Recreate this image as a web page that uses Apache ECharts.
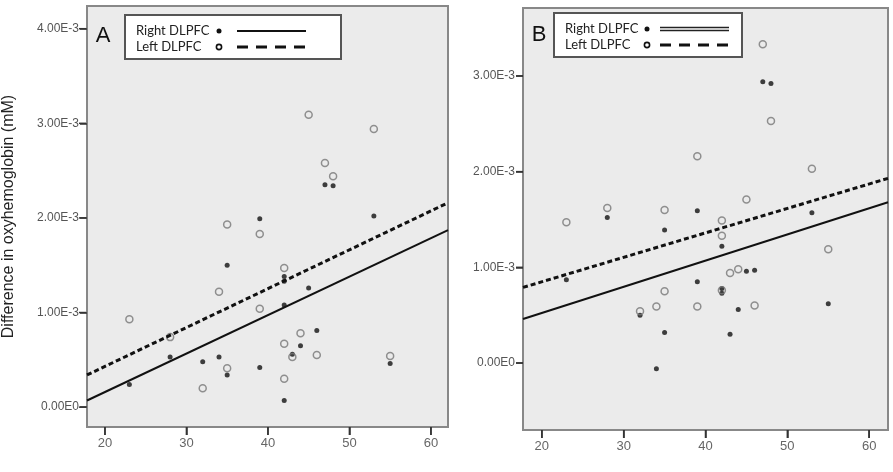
<!DOCTYPE html>
<html>
<head>
<meta charset="utf-8">
<script src="https://cdn.jsdelivr.net/npm/echarts@6/dist/echarts.min.js"></script>
<style>
  html, body { margin: 0; padding: 0; background: #ffffff; }
  #echarts { width: 893px; height: 472px; }
</style>
</head>
<body>
<div id="echarts"></div>
<script>
// age ticks shared by both panels
const xTicks = [20, 30, 40, 50, 60];

// panel A: [age, difference in oxyhemoglobin (mM)]
const rightA = [
  [47, 2.35e-3], [48, 2.34e-3], [39, 1.99e-3], [53, 2.02e-3], [35, 1.50e-3],
  [42, 1.38e-3], [42, 1.33e-3], [45, 1.26e-3], [42, 1.08e-3], [46, 0.81e-3],
  [44, 0.65e-3], [28, 0.53e-3], [34, 0.53e-3], [32, 0.48e-3], [43, 0.56e-3],
  [35, 0.34e-3], [39, 0.42e-3], [55, 0.46e-3], [23, 0.24e-3], [42, 0.07e-3]
];
const leftA = [
  [45, 3.09e-3], [53, 2.94e-3], [47, 2.58e-3], [48, 2.44e-3], [35, 1.93e-3],
  [39, 1.83e-3], [42, 1.47e-3], [34, 1.22e-3], [39, 1.04e-3], [23, 0.93e-3],
  [44, 0.78e-3], [42, 0.67e-3], [28, 0.74e-3], [43, 0.53e-3], [46, 0.55e-3],
  [35, 0.41e-3], [55, 0.54e-3], [42, 0.30e-3], [32, 0.20e-3]
];
// fit lines, read at the two ends of the x range
const fitRightA = [[17.8, 0.07e-3], [62.1, 1.87e-3]];
const fitLeftA = [[17.8, 0.34e-3], [62.1, 2.16e-3]];
const yTicksA = [0, 1e-3, 2e-3, 3e-3, 4e-3];
const yLabelsA = ['0.00E0', '1.00E-3', '2.00E-3', '3.00E-3', '4.00E-3'];

// panel B
const rightB = [
  [47, 2.94e-3], [48, 2.92e-3], [28, 1.52e-3], [39, 1.59e-3], [53, 1.57e-3],
  [35, 1.39e-3], [42, 1.22e-3], [23, 0.87e-3], [45, 0.96e-3], [46, 0.97e-3],
  [39, 0.85e-3], [42, 0.78e-3], [42, 0.73e-3], [44, 0.56e-3], [32, 0.50e-3],
  [55, 0.62e-3], [35, 0.32e-3], [43, 0.30e-3], [34, -0.06e-3]
];
const leftB = [
  [47, 3.33e-3], [48, 2.53e-3], [39, 2.16e-3], [53, 2.03e-3], [45, 1.71e-3],
  [28, 1.62e-3], [23, 1.47e-3], [35, 1.60e-3], [42, 1.49e-3], [42, 1.33e-3],
  [55, 1.19e-3], [43, 0.94e-3], [44, 0.98e-3], [42, 0.76e-3], [35, 0.75e-3],
  [34, 0.59e-3], [39, 0.59e-3], [46, 0.60e-3], [32, 0.54e-3]
];
const fitRightB = [[17.7, 0.46e-3], [62.3, 1.68e-3]];
const fitLeftB = [[17.7, 0.79e-3], [62.3, 1.93e-3]];
const yTicksB = [0, 1e-3, 2e-3, 3e-3];
const yLabelsB = ['0.00E0', '1.00E-3', '2.00E-3', '3.00E-3'];

const labelFor = (ticks, labels) => (v) => {
  const i = ticks.findIndex((t) => Math.abs(t - v) < 1e-9);
  return i >= 0 ? labels[i] : '';
};

const makeX = (idx, min, max) => ({
  type: 'value',
  gridIndex: idx,
  min: min,
  max: max,
  axisLine: { show: true, onZero: false, lineStyle: { color: '#888', width: 2 } },
  splitLine: { show: false },
  axisTick: { show: true, length: 8, customValues: xTicks, lineStyle: { color: '#333', width: 1.5 } },
  axisLabel: {
    customValues: xTicks,
    margin: 10,
    color: '#666',
    fontSize: 13,
    fontFamily: 'Liberation Sans',
  },
});

const makeY = (idx, min, max, ticks, labels) => ({
  type: 'value',
  gridIndex: idx,
  min: min,
  max: max,
  axisLine: { show: true, onZero: false, lineStyle: { color: '#888', width: 2 } },
  splitLine: { show: false },
  axisTick: { show: true, length: 7, customValues: ticks, lineStyle: { color: '#333', width: 1.5 } },
  axisLabel: {
    customValues: ticks,
    margin: 8,
    color: '#555',
    fontSize: 12,
    fontFamily: 'Liberation Sans',
    formatter: labelFor(ticks, labels),
  },
});

const filled = (data, idx) => ({
  type: 'scatter',
  xAxisIndex: idx,
  yAxisIndex: idx,
  data: data,
  symbol: 'circle',
  symbolSize: 5,
  itemStyle: { color: '#111' },
  z: 3,
});

const hollow = (data, idx) => ({
  type: 'scatter',
  xAxisIndex: idx,
  yAxisIndex: idx,
  data: data,
  symbol: 'circle',
  symbolSize: 7,
  itemStyle: { color: 'rgba(0,0,0,0)', borderColor: '#777', borderWidth: 1.5 },
  z: 3,
});

const fit = (data, idx, dashed) => ({
  type: 'line',
  xAxisIndex: idx,
  yAxisIndex: idx,
  data: data,
  showSymbol: false,
  silent: true,
  lineStyle: dashed
    ? { color: '#111', width: 3, type: [5, 3] }
    : { color: '#111', width: 2 },
  z: 4,
});

// legend drawn as a small boxed key, like the original figure
const legendBox = (x, y, w, h, dotX, lx1, lx2, doubleLine) => {
  const t = { fontFamily: 'Lato', fontSize: 13, fill: '#222', verticalAlign: 'middle' };
  const items = [
    { type: 'rect', shape: { x: x, y: y, width: w, height: h }, style: { fill: '#fff', stroke: '#555', lineWidth: 2 } },
    { type: 'text', x: x + 11, y: y + 16, style: Object.assign({ text: 'Right DLPFC' }, t) },
    { type: 'text', x: x + 11, y: y + 32, style: Object.assign({ text: 'Left DLPFC' }, t) },
    { type: 'circle', shape: { cx: dotX, cy: y + 16, r: 2.5 }, style: { fill: '#111' } },
    { type: 'circle', shape: { cx: dotX, cy: y + 32, r: 2.6 }, style: { fill: '#fff', stroke: '#111', lineWidth: 1.6 } },
    { type: 'line', shape: { x1: lx1, y1: y + 32, x2: lx2, y2: y + 32 }, style: { stroke: '#111', lineWidth: 3, lineDash: [11, 8] } },
  ];
  if (doubleLine) {
    items.push({ type: 'line', shape: { x1: lx1, y1: y + 14.5, x2: lx2, y2: y + 14.5 }, style: { stroke: '#222', lineWidth: 1.3 } });
    items.push({ type: 'line', shape: { x1: lx1, y1: y + 17.5, x2: lx2, y2: y + 17.5 }, style: { stroke: '#222', lineWidth: 1.3 } });
  } else {
    items.push({ type: 'line', shape: { x1: lx1, y1: y + 16, x2: lx2, y2: y + 16 }, style: { stroke: '#111', lineWidth: 2 } });
  }
  return items;
};

const grids = [
  { left: 86, top: 6, width: 362, height: 421, show: true, backgroundColor: '#ebebeb', borderColor: '#888', borderWidth: 2 },
  { left: 523, top: 8, width: 365, height: 422, show: true, backgroundColor: '#ebebeb', borderColor: '#888', borderWidth: 2 },
];
const labelsGraphic = [
  { type: 'text', x: 103, y: 36, style: { text: 'A', fontFamily: 'Liberation Sans', fontSize: 22, fill: '#111', align: 'center', verticalAlign: 'middle' } },
  { type: 'text', x: 539, y: 35, style: { text: 'B', fontFamily: 'Liberation Sans', fontSize: 22, fill: '#111', align: 'center', verticalAlign: 'middle' } },
  ...legendBox(125, 15, 216, 44, 219, 237, 306, false),
  ...legendBox(554, 13, 188, 44, 647, 660, 729, true),
];

const myChart = echarts.init(document.getElementById('echarts'), null, { renderer: 'canvas' });
myChart.setOption({
  animation: false,
  grid: grids,
  xAxis: [makeX(0, 17.8, 62.1), makeX(1, 17.7, 62.3)],
  yAxis: [
    Object.assign(makeY(0, -0.21e-3, 4.24e-3, yTicksA, yLabelsA), {
      name: 'Difference in oxyhemoglobin (mM)',
      nameLocation: 'middle',
      nameGap: 70,
      nameTextStyle: { fontFamily: 'Liberation Sans', fontSize: 16, color: '#222' },
    }),
    makeY(1, -0.70e-3, 3.71e-3, yTicksB, yLabelsB),
  ],
  series: [
    fit(fitRightA, 0, false),
    fit(fitLeftA, 0, true),
    filled(rightA, 0),
    hollow(leftA, 0),
    fit(fitRightB, 1, false),
    fit(fitLeftB, 1, true),
    filled(rightB, 1),
    hollow(leftB, 1),
  ],
  graphic: labelsGraphic,
});

// outward tick marks, positioned through the chart's own scales
try {
  const ticks = [];
  const panels = [
    { idx: 0, yTicks: yTicksA },
    { idx: 1, yTicks: yTicksB },
  ];
  panels.forEach(({ idx, yTicks }) => {
    const g = grids[idx];
    const bottom = g.top + g.height;
    xTicks.forEach((v) => {
      const px = myChart.convertToPixel({ xAxisIndex: idx }, v);
      ticks.push({ type: 'line', silent: true, z: 10, shape: { x1: px, y1: bottom, x2: px, y2: bottom + 8 }, style: { stroke: '#333', lineWidth: 1.5 } });
    });
    yTicks.forEach((v) => {
      const py = myChart.convertToPixel({ yAxisIndex: idx }, v);
      ticks.push({ type: 'line', silent: true, z: 10, shape: { x1: g.left - 7, y1: py, x2: g.left, y2: py }, style: { stroke: '#333', lineWidth: 1.5 } });
    });
  });
  myChart.setOption({ graphic: labelsGraphic.concat(ticks) });
} catch (e) {
  console.error(e);
}
window.addEventListener('resize', myChart.resize);
</script>
</body>
</html>
